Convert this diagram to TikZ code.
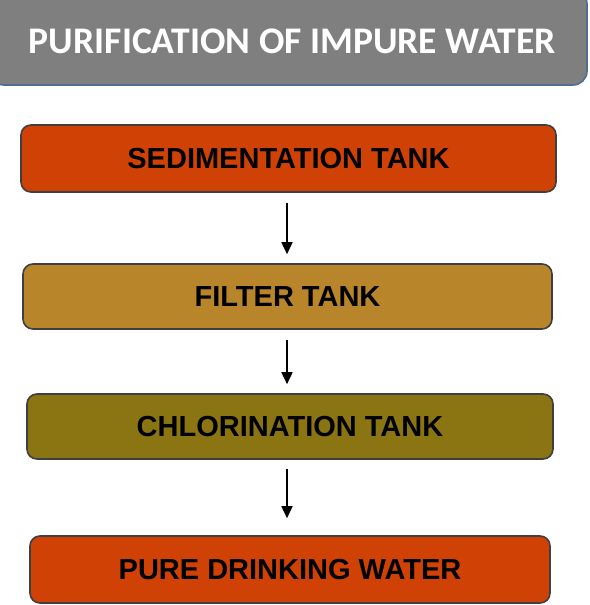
\documentclass[tikz,border=0pt]{standalone}
\usepackage{fontspec}
\setmainfont{Liberation Sans}
\newfontfamily\titlefont{Carlito}
\usetikzlibrary{arrows.meta}
\definecolor{titlegray}{HTML}{7F7F7F}
\definecolor{titleedge}{HTML}{4E6F94}
\definecolor{sedfill}{HTML}{D04106}
\definecolor{filfill}{HTML}{B8852A}
\definecolor{chlfill}{HTML}{8B7513}
\definecolor{boxedge}{HTML}{3F3F3F}
\begin{document}
\begin{tikzpicture}[x=1pt,y=-1pt,
  stepbox/.style={draw=boxedge,line width=1.6pt,rounded corners=10pt,inner sep=0pt,
    font=\fontsize{29}{31}\selectfont\bfseries,text=black},
  arr/.style={line width=1.6pt,-{Triangle[width=11pt,length=12pt]}}]
\useasboundingbox (0,0) rectangle (589,605);
\fill[white] (0,0) rectangle (589,605);
\node[draw=titleedge,fill=titlegray,line width=1.6pt,rounded corners=14pt,
  minimum width=597pt,minimum height=95pt,inner sep=0pt] (title) at (288.5,37.5) {};
\node[text=white,font=\titlefont\fontsize{37.6}{40}\selectfont\bfseries] (ttext) at (292.5,41) {PURIFICATION OF IMPURE WATER};
\node[stepbox,fill=sedfill,minimum width=535pt,minimum height=67pt] (b1) at (288.5,158.5) {SEDIMENTATION TANK};
\node[stepbox,fill=filfill,minimum width=529pt,minimum height=65pt] (b2) at (287.5,296.5) {FILTER TANK};
\node[stepbox,fill=chlfill,minimum width=526pt,minimum height=65pt] (b3) at (290,426.5) {CHLORINATION TANK};
\node[stepbox,fill=sedfill,minimum width=520pt,minimum height=67pt] (b4) at (290,569.5) {PURE DRINKING WATER};
\draw[arr] ([xshift=-1.5pt,yshift=-10pt]b1.south) -- ([xshift=-0.5pt,yshift=9pt]b2.north);
\draw[arr] ([xshift=-0.5pt,yshift=-10pt]b2.south) -- ([xshift=-3pt,yshift=9pt]b3.north);
\draw[arr] ([xshift=-3pt,yshift=-9pt]b3.south) -- ([xshift=-3pt,yshift=17pt]b4.north);
\end{tikzpicture}
\end{document}
